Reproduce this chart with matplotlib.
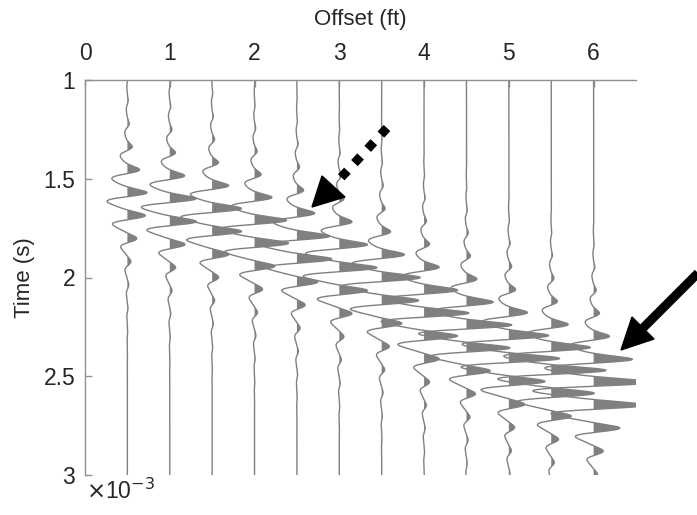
import numpy as np
import matplotlib.pyplot as plt
from matplotlib.lines import Line2D
from matplotlib.patches import Polygon
from matplotlib.transforms import IdentityTransform

plt.rcParams['font.family'] = ['Liberation Sans', 'DejaVu Sans']

# trace positions (ft) and the main event
offsets = [0.5, 1.0, 1.5, 2.0, 2.5, 3.0, 3.5, 4.0, 4.5, 5.0, 5.5, 6.0]
env_time = [1.61, 1.66, 1.71, 1.78, 1.86, 1.95, 2.05, 2.18, 2.29, 2.40, 2.48, 2.56]
peak_time = [1.57, 1.60, 1.65, 1.71, 1.79, 1.95, 2.00, 2.18, 2.24, 2.41, 2.47, 2.53]
amplitude = [0.20, 0.28, 0.31, 0.35, 0.36, 0.37, 0.40, 0.44, 0.47, 0.50, 0.54, 0.60]
period = 0.117

xticks = [0, 1, 2, 3, 4, 5, 6]
yticks = [1, 1.5, 2, 2.5, 3]
ytick_labels = ['1', '1.5', '2', '2.5', '3']

gray = '#808080'
t = np.arange(1.0, 3.0005, 0.001)

fig = plt.figure(figsize=(6.97, 5.15), dpi=100)
ax = fig.add_axes([85 / 697, 1 - 475 / 515, (636 - 85) / 697, (475 - 80) / 515])

for off, tc, tp, amp in zip(offsets, env_time, peak_time, amplitude):
    s = 2 * np.pi * (t - tp) / period
    phase = s + 0.45 * (np.sin(s - np.pi / 4) + np.sin(np.pi / 4))
    env = np.exp(-((t - tc) / 0.2) ** 2) + 0.2 * np.exp(-((t - tc) / 0.42) ** 2)
    x = off + amp * env * np.cos(phase)
    ax.fill_betweenx(t, off, x, where=x > off, interpolate=True, color=gray, lw=0)
    ax.plot(x, t, color=gray, lw=1.0)

ax.set_xlim(0, 6.5)
ax.set_ylim(3, 1)
ax.xaxis.tick_top()
ax.xaxis.set_label_position('top')
ax.set_xticks(xticks)
ax.set_yticks(yticks)
ax.set_yticklabels(ytick_labels)
ax.tick_params(direction='in', length=5, width=1, color='#909090',
               labelcolor='#262626', labelsize=16.5, pad=7)
ax.tick_params(axis='x', pad=11)
ax.set_xlabel('Offset (ft)', fontsize=16, color='#262626', labelpad=12)
ax.set_ylabel('Time (s)', fontsize=16, color='#262626', labelpad=6)
for side in ['right', 'bottom']:
    ax.spines[side].set_visible(False)
for side in ['left', 'top']:
    ax.spines[side].set_color('#909090')
    ax.spines[side].set_linewidth(1.0)

fig.text(86 / 697, 1 - 491 / 515, r'$\times$10$^{-3}$', fontsize=16.5,
         color='#262626', va='center', ha='left')

# arrows drawn in figure pixels (y measured from the bottom)
H = 515
ident = IdentityTransform()
fig.add_artist(Line2D([705, 641], [H - 266, H - 330], transform=ident,
                      color='k', lw=6.5, solid_capstyle='butt'))
fig.add_artist(Polygon([[621, H - 350], [632, H - 317], [654, H - 339]],
                       closed=True, transform=ident, color='k'))
fig.add_artist(Line2D([387, 336], [H - 128, H - 183], transform=ident,
                      color='k', lw=6.5, linestyle=(0, (1, 1.15)),
                      dash_capstyle='butt'))
fig.add_artist(Polygon([[312, H - 207], [322, H - 176], [345, H - 197]],
                       closed=True, transform=ident, color='k'))

fig.savefig('out.png', dpi=100)
